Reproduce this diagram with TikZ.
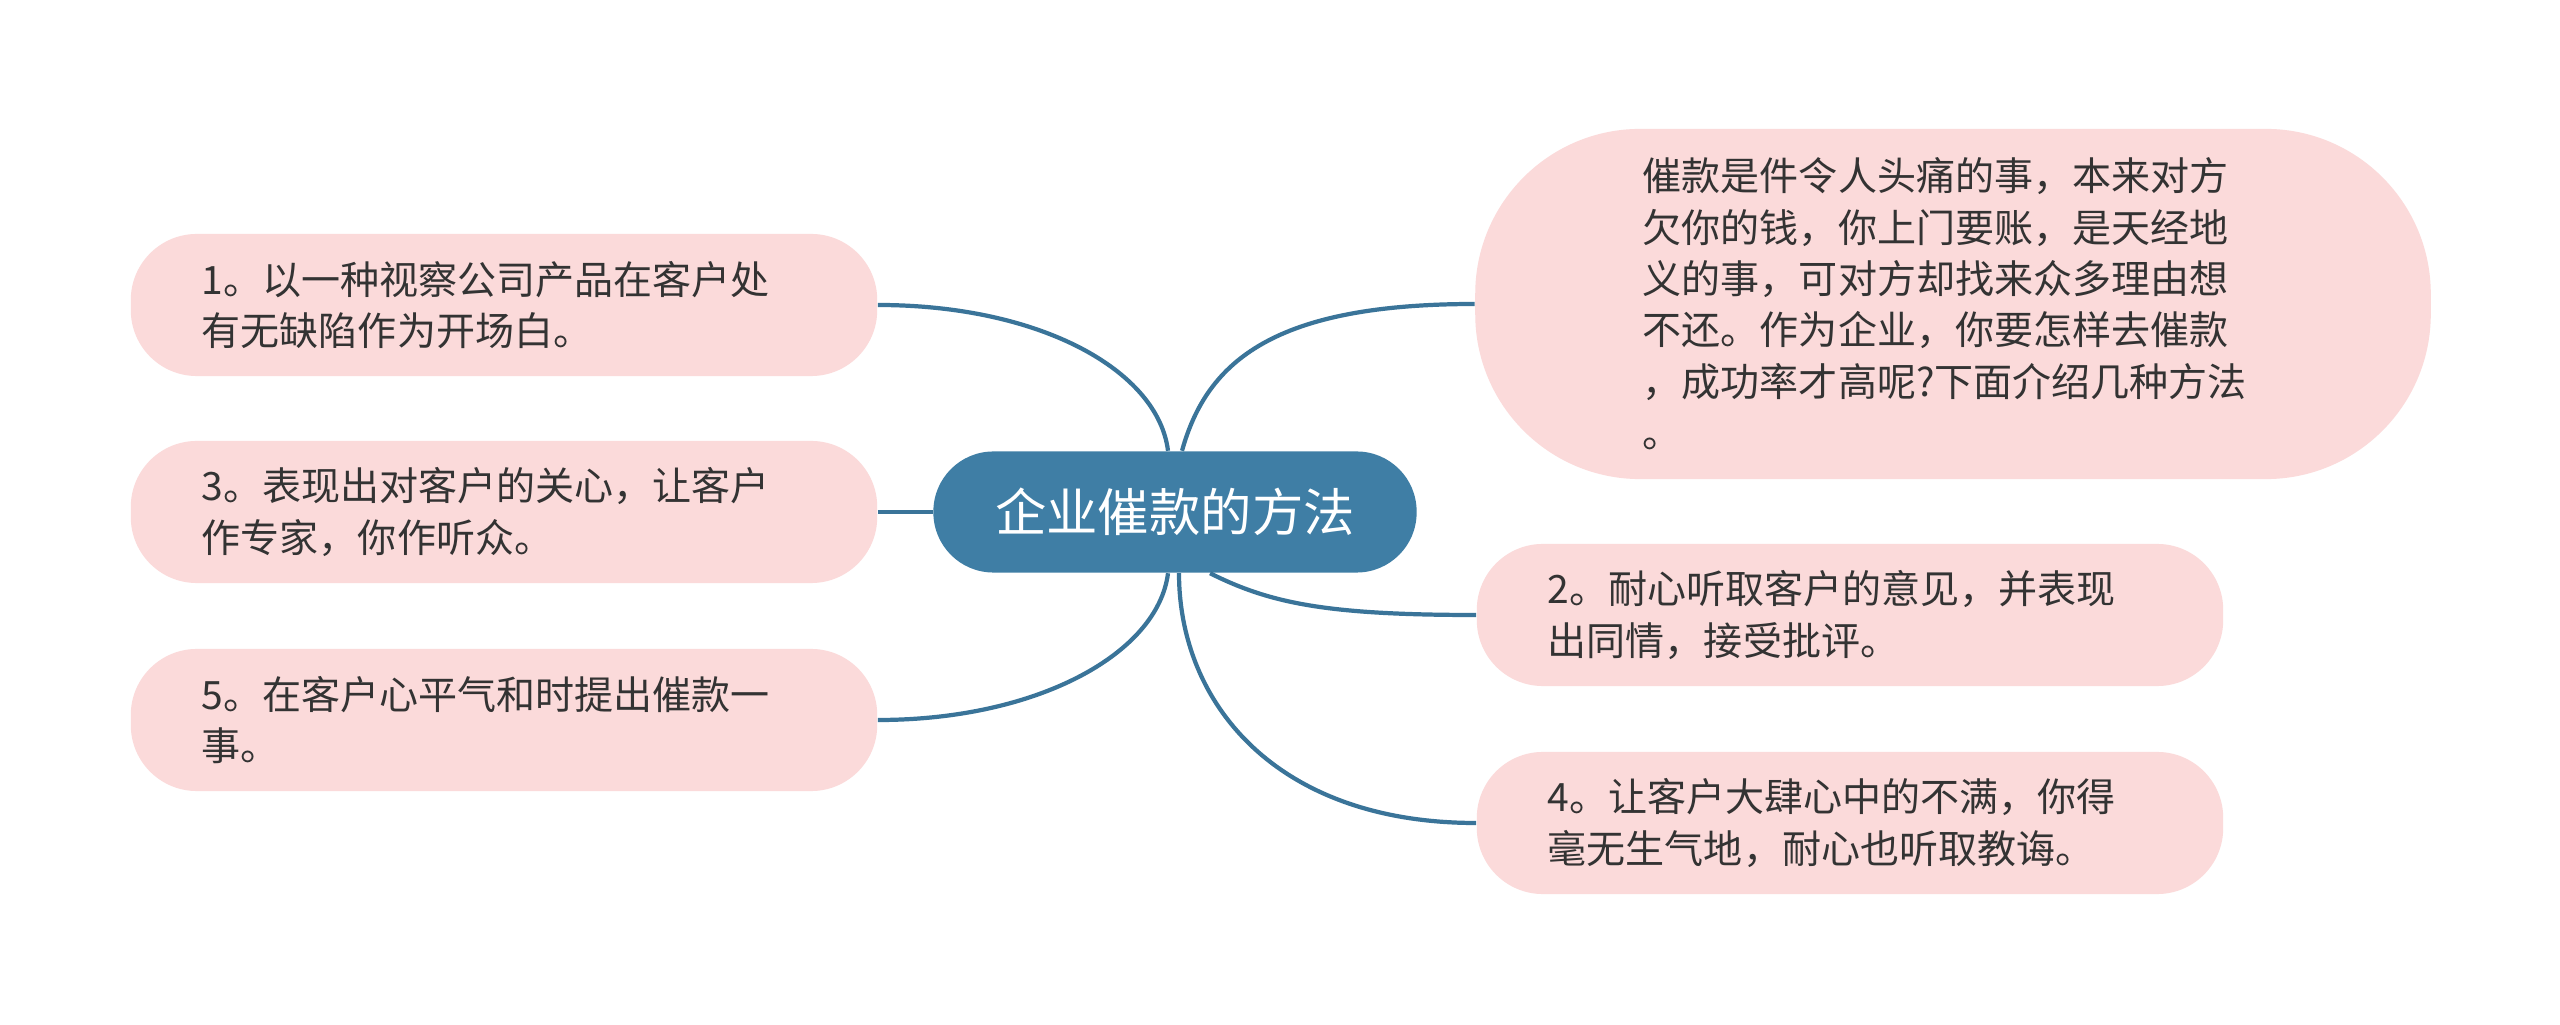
\documentclass[tikz,border=0pt]{standalone}
\usepackage{fontspec}
\setmainfont{Noto Sans CJK SC}

\definecolor{leafpink}{HTML}{FBDADA}
\definecolor{rootblue}{HTML}{3F7EA5}
\definecolor{linkblue}{HTML}{3A7499}
\definecolor{leaftext}{HTML}{333333}

\begin{document}
\begin{tikzpicture}[x=0.01cm, y=-0.01cm]
    % ===================================
    % 设置
    % ===================================
    \def\leaffont{\fontsize{11.1pt}{14.6pt}\selectfont}  % 分支文字
    \def\rootfont{\fontsize{14.6pt}{17pt}\selectfont}    % 中心文字
    \def\bend{0.07cm}  % 连线在中心节点上的偏移

    \tikzset{
        root/.style={fill=rootblue, text=white, font=\rootfont,
            rounded corners=0.6cm, minimum width=4.83cm, minimum height=1.21cm},
        leaf/.style={fill=leafpink, text=leaftext, font=\leaffont, align=left,
            rounded corners=0.66cm, text width=6.04cm, inner xsep=0.71cm,
            inner ysep=0pt, minimum height=1.42cm},
        bigleaf/.style={leaf, rounded corners=1.65cm, text width=6.2cm,
            inner xsep=1.675cm, minimum height=3.5cm},
        link/.style={draw=linkblue, line width=1.2pt},
    }
    % ===================================

    \fill[white] (0,0) rectangle (2560,1025);
    \useasboundingbox (0,0) rectangle (2560,1025);

    % 1. 中心节点
    \node[root] (root) at (1175,512) {企业催款的方法};

    % 2. 左侧分支 (1, 3, 5)
    \node[leaf] (n1) at (504,305) {1。以一种视察公司产品在客户处\\有无缺陷作为开场白。};
    \node[leaf] (n3) at (504,512) {3。表现出对客户的关心，让客户\\作专家，你作听众。};
    \node[leaf] (n5) at (504,720) {5。在客户心平气和时提出催款一\\事。};

    % 3. 右侧分支 (引言, 2, 4)
    \node[bigleaf] (intro) at (1953,304) {催款是件令人头痛的事，本来对方\\欠你的钱，你上门要账，是天经地\\义的事，可对方却找来众多理由想\\不还。作为企业，你要怎样去催款\\，成功率才高呢?下面介绍几种方法\\。};
    \node[leaf] (n2) at (1850,615) {2。耐心听取客户的意见，并表现\\出同情，接受批评。};
    \node[leaf] (n4) at (1850,823) {4。让客户大肆心中的不满，你得\\毫无生气地，耐心也听取教诲。};

    % 4. 连线
    \draw[link] ([xshift=-\bend]root.north) .. controls +(-10,-80) and +(163,0) .. (n1.east);
    \draw[link] (n3.east) -- (root.west);
    \draw[link] ([xshift=-\bend]root.south) .. controls +(-10,80) and +(160,0) .. (n5.east);
    \draw[link] ([xshift=\bend]root.north) .. controls +(25,-90) and +(-200,0) .. (intro.west);
    \draw[link] ([xshift=0.35cm]root.south) .. controls +(60,30) and +(-150,0) .. (n2.west);
    \draw[link] ([xshift=0.04cm]root.south) .. controls +(0,130) and +(-200,0) .. (n4.west);

\end{tikzpicture}
\end{document}
